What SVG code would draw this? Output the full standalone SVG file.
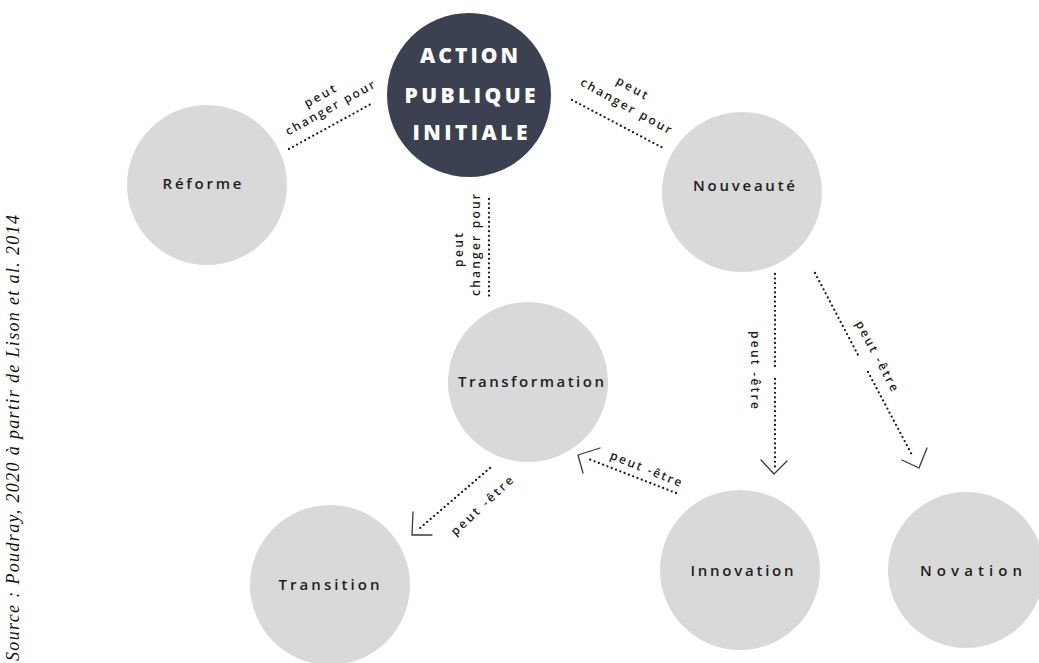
<svg xmlns="http://www.w3.org/2000/svg" width="1039" height="663" viewBox="0 0 1039 663">
<style>
.n{fill:#d9d9d9}
.dk{fill:#3b4150}
.lb{font-family:"Open Sans","Liberation Sans",sans-serif;font-size:15px;font-weight:600;fill:#1e1e1e;text-anchor:middle}
.ct{font-family:"Open Sans","Liberation Sans",sans-serif;font-size:21px;font-weight:800;fill:#ffffff;text-anchor:middle}
.cl{font-family:"Open Sans","Liberation Sans",sans-serif;font-size:12px;font-weight:600;fill:#1e1e1e;text-anchor:middle}
.dot{fill:none;stroke:#1a1a1a;stroke-width:2.3;stroke-linecap:round;stroke-dasharray:0 4.6}
.ah{fill:none;stroke:#3a3a3a;stroke-width:1.3;stroke-linecap:round;stroke-linejoin:round}
.src{font-family:"Liberation Serif","Times New Roman",serif;font-size:18px;font-style:italic;fill:#111}
</style>
<rect width="1039" height="663" fill="#ffffff"/>

<g id="connectors">
  <path class="dot" d="M289,149 L371,104"/>
  <path class="dot" d="M572,100 L663,148"/>
  <path class="dot" d="M489,199 L489,297"/>
  <path class="dot" d="M775,274 L775,368 M775,379 L775,467"/>
  <path class="ah" d="M761,460 L774,474 L787,461"/>
  <path class="dot" d="M815,273 L858,355 M868,372 L912,455"/>
  <path class="ah" d="M902,460 L919,468 L927,448"/>
  <path class="dot" d="M676,493 L586,458"/>
  <path class="ah" d="M583,473 L578,455 L600,448"/>
  <path class="dot" d="M490,468 L419,529"/>
  <path class="ah" d="M413,512 L412,535 L432,535"/>

  <text class="cl" transform="translate(320,96) rotate(-29)" x="0" y="4" textLength="34" lengthAdjust="spacing">peut</text>
  <text class="cl" transform="translate(330,108) rotate(-29)" x="0" y="4" textLength="100" lengthAdjust="spacing">changer pour</text>
  <text class="cl" transform="translate(632,88) rotate(29)" x="0" y="4" textLength="34" lengthAdjust="spacing">peut</text>
  <text class="cl" transform="translate(626,106) rotate(29)" x="0" y="4" textLength="102" lengthAdjust="spacing">changer pour</text>
  <text class="cl" transform="translate(459,250) rotate(-90)" x="0" y="4" textLength="34" lengthAdjust="spacing">peut</text>
  <text class="cl" transform="translate(476,245) rotate(-90)" x="0" y="4" textLength="102" lengthAdjust="spacing">changer pour</text>
  <text class="cl" transform="translate(755,370) rotate(90)" x="0" y="4" textLength="78" lengthAdjust="spacing">peut -être</text>
  <text class="cl" transform="translate(877,356) rotate(62)" x="0" y="4" textLength="78" lengthAdjust="spacing">peut -être</text>
  <text class="cl" transform="translate(646,469) rotate(22)" x="0" y="4" textLength="76" lengthAdjust="spacing">peut -être</text>
  <text class="cl" transform="translate(482,506) rotate(-43)" x="0" y="4" textLength="80" lengthAdjust="spacing">peut -être</text>
</g>

<g id="node-action">
  <circle class="dk" cx="469" cy="95" r="82"/>
  <text class="ct" x="469" y="63" textLength="98" lengthAdjust="spacing">ACTION</text>
  <text class="ct" x="470" y="103" textLength="131" lengthAdjust="spacing">PUBLIQUE</text>
  <text class="ct" x="470" y="140" textLength="115" lengthAdjust="spacing">INITIALE</text>
</g>
<g id="node-reforme">
  <circle class="n" cx="207" cy="185" r="80"/>
  <text class="lb" x="202" y="189" textLength="79" lengthAdjust="spacing">Réforme</text>
</g>
<g id="node-nouveaute">
  <circle class="n" cx="742" cy="192" r="80"/>
  <text class="lb" x="744" y="191" textLength="102" lengthAdjust="spacing">Nouveauté</text>
</g>
<g id="node-transformation">
  <circle class="n" cx="528" cy="382" r="80"/>
  <text class="lb" x="531" y="387" textLength="146" lengthAdjust="spacing">Transformation</text>
</g>
<g id="node-transition">
  <circle class="n" cx="330" cy="585" r="80"/>
  <text class="lb" x="329" y="590" textLength="101" lengthAdjust="spacing">Transition</text>
</g>
<g id="node-innovation">
  <circle class="n" cx="740" cy="570" r="80"/>
  <text class="lb" x="742" y="576" textLength="103" lengthAdjust="spacing">Innovation</text>
</g>
<g id="node-novation">
  <circle class="n" cx="966" cy="570" r="78"/>
  <text class="lb" x="971" y="576" textLength="102" lengthAdjust="spacing">Novation</text>
</g>

<text class="src" transform="translate(19,661) rotate(-90)" x="0" y="0" textLength="446" lengthAdjust="spacing">Source : Poudray, 2020 à partir de Lison et al. 2014</text>
</svg>
